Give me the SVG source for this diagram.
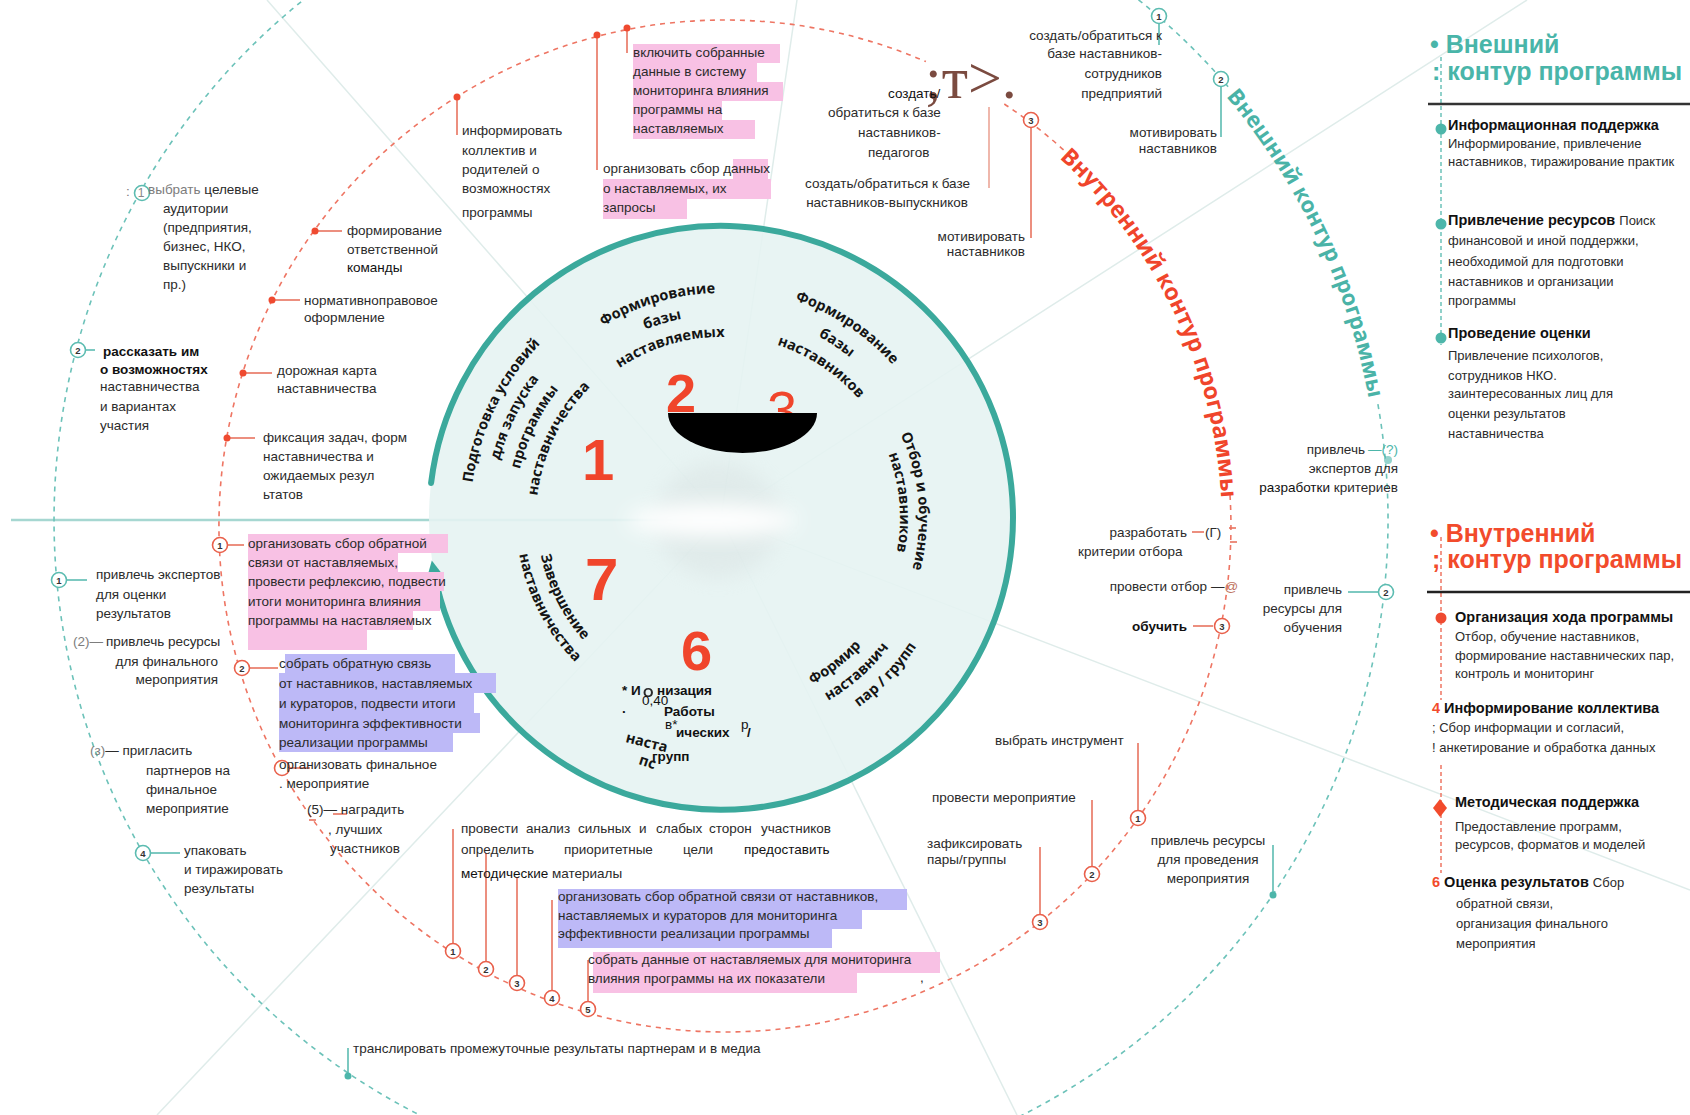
<svg xmlns="http://www.w3.org/2000/svg" width="1690" height="1115" viewBox="0 0 1690 1115">
<defs>
<style>
.t{font-family:"Liberation Sans",Arial,sans-serif;font-size:13.5px;fill:#2b2b2b}
.e{text-anchor:end}
.m{text-anchor:middle}
.b{font-weight:700}
.k{fill:#111}
.g{fill:#7d7d7d}
.w{font-family:"Open Sans","Liberation Sans",sans-serif;font-weight:700;font-size:14.5px;fill:#141414}
.n{font-family:"Liberation Sans",Arial,sans-serif;font-weight:700;font-size:9.5px;fill:#333;text-anchor:middle}
.rc{fill:#fff;stroke:#e9604b;stroke-width:1.6}
.tc{fill:#fff;stroke:#5cbcb1;stroke-width:1.6}
.rl{stroke:#e8735f;stroke-width:1.6;fill:none}
.tl{stroke:#5cbcb1;stroke-width:1.6;fill:none}
.rd{fill:#ef4a30}
.td{fill:#4db6aa}
.pk{fill:#f8c1e4}
.pu{fill:#bdb9f7}
.big{font-family:"Liberation Sans",Arial,sans-serif;font-weight:700;fill:#f0452b}
.lg{font-family:"Liberation Sans",Arial,sans-serif;font-size:13px;fill:#2b2b2b}
.lh{font-family:"Liberation Sans",Arial,sans-serif;font-size:14.5px;font-weight:700;fill:#111}
.spoke{stroke:#dfecea;stroke-width:1.5}
.ring{font-family:"Open Sans","Liberation Sans",sans-serif;font-weight:700}
</style>
<marker id="arr" viewBox="0 0 10 10" refX="1" refY="5" markerWidth="15" markerHeight="15" markerUnits="userSpaceOnUse" orient="auto">
<path d="M0,0 L10,5 L0,10 z" fill="#3ba99c"/>
</marker>
<filter id="bl" x="-50%" y="-50%" width="200%" height="200%"><feGaussianBlur stdDeviation="10"/></filter>
<filter id="bl2" x="-50%" y="-50%" width="200%" height="200%"><feGaussianBlur stdDeviation="0.7"/></filter>
<path id="pA1" d="M477.5,578.7 A251,251 0 0 1 618.9,288.7"/>
<path id="pA2" d="M498.8,573.4 A229,229 0 0 1 627.9,308.8"/>
<path id="pA3" d="M520.1,568.1 A207,207 0 0 1 636.8,328.9"/>
<path id="pA4" d="M541.5,562.8 A185,185 0 0 1 645.8,349"/>
<path id="pB1" d="M533.4,393.8 A225,225 0 0 1 810.7,311.7"/>
<path id="pB2" d="M551.7,406 A203,203 0 0 1 801.9,331.8"/>
<path id="pB3" d="M570.1,418.1 A181,181 0 0 1 793.2,352"/>
<path id="pC1" d="M715,288.1 A230,230 0 0 1 935,433.7"/>
<path id="pC2" d="M715.6,312.1 A206,206 0 0 1 912.7,442.5"/>
<path id="pC3" d="M716.2,336.1 A182,182 0 0 1 890.3,451.3"/>
<path id="pD1" d="M861,378 A198,198 0 0 1 883.2,631.6"/>
<path id="pD2" d="M847.6,391.4 A179,179 0 0 1 867.6,620.7"/>
<path id="pE1" d="M715,707.9 A190,190 0 0 0 907,556.9"/>
<path id="pE2" d="M726.2,729.9 A212,212 0 0 0 930.6,549.7"/>
<path id="pE3" d="M747.1,750.6 A234,234 0 0 0 954.5,532.7"/>
<path id="pF1" d="M542,475.4 A184,184 0 0 0 647.9,686.9"/>
<path id="pF2" d="M520.9,473.6 A205,205 0 0 0 642.5,707.4"/>
<path id="pRed" d="M1006.5,116.4 A497,497 0 0 1 1220.5,565"/>
<path id="pTeal" d="M1096.2,-21.8 A659,659 0 0 1 1377.8,574"/>
</defs>

<rect x="0" y="0" width="1690" height="1115" fill="#fff"/>

<g id="spokes">
<line class="spoke" x1="721" y1="518" x2="797" y2="0"/>
<line class="spoke" x1="721" y1="518" x2="267" y2="0"/>
<line class="spoke" x1="721" y1="518" x2="1527" y2="0"/>
<line class="spoke" x1="721" y1="518" x2="1690" y2="890"/>
<line class="spoke" x1="721" y1="518" x2="1017" y2="1115"/>
<line class="spoke" x1="721" y1="518" x2="157" y2="1115"/>
<line x1="11" y1="520" x2="721" y2="520" stroke="#a6d7d1" stroke-width="2.5"/>
</g>

<g id="wheel">
<circle cx="721" cy="518" r="292" fill="#e6f3f2" fill-opacity="0.9"/>
<ellipse cx="718" cy="520" rx="62" ry="58" fill="#d5dede" opacity="0.4" filter="url(#bl)"/>
<ellipse cx="712" cy="520" rx="85" ry="16" fill="#ffffff" filter="url(#bl)"/>
<path d="M431.1,482.9 A292,292 0 0 1 1013,518 A292,292 0 0 1 434.4,573.7" fill="none" stroke="#3ba99c" stroke-width="6" stroke-linecap="round" marker-end="url(#arr)"/>
</g>

<g id="contours">
<path d="M1377.9,404.2 A667,667 0 1 1 1228.2,86.8" fill="none" stroke="#6cc2b9" stroke-width="1.6" stroke-dasharray="5 5"/>
<path d="M1004.3,104 A506,506 0 0 1 1066.9,152.9" fill="none" stroke="#ee7563" stroke-width="1.6" stroke-dasharray="5 5"/>
<path d="M1230,495.1 A506,506 0 1 1 925.9,61.6" fill="none" stroke="#ee7563" stroke-width="1.6" stroke-dasharray="5 5"/>
<text class="ring" font-size="23" fill="#f0452b"><textPath href="#pRed" startOffset="50%" text-anchor="middle">Внутренний контур программы</textPath></text>
<text class="ring" font-size="22" fill="#4ab3a7"><textPath href="#pTeal" startOffset="50%" text-anchor="middle">Внешний контур программы</textPath></text>
</g>

<g id="connectors">
<line class="rl" x1="315" y1="231" x2="342" y2="231"/>
<line class="rl" x1="272" y1="300" x2="300" y2="300"/>
<line class="rl" x1="243" y1="373" x2="272" y2="373"/>
<line class="rl" x1="227" y1="438" x2="255" y2="438"/>
<line class="rl" x1="457" y1="97" x2="457" y2="135"/>
<line class="rl" x1="597" y1="35" x2="597" y2="170"/>
<line class="rl" x1="627" y1="28" x2="627" y2="53"/>
<line x1="989" y1="107" x2="989" y2="188" stroke="#eba597" stroke-width="1.6"/>
<line class="rl" x1="1031" y1="128" x2="1031" y2="238" stroke="#eba597"/>
<line class="rl" x1="1193" y1="626" x2="1213" y2="626"/>
<line class="rl" x1="1192" y1="532" x2="1204" y2="532"/>
<line class="rl" x1="1229" y1="528" x2="1236" y2="528"/>
<line class="rl" x1="1230" y1="542" x2="1237" y2="542"/>
<line class="rl" x1="1138" y1="743" x2="1138" y2="810"/>
<line class="rl" x1="1092" y1="800" x2="1092" y2="866"/>
<line class="rl" x1="1040" y1="847" x2="1040" y2="914"/>
<line class="rl" x1="453" y1="829" x2="453" y2="943"/>
<line class="rl" x1="486" y1="853" x2="486" y2="961"/>
<line class="rl" x1="517" y1="877" x2="517" y2="975"/>
<line class="rl" x1="552" y1="900" x2="552" y2="990"/>
<line class="rl" x1="588" y1="960" x2="588" y2="1001"/>
<line class="rl" x1="228" y1="545" x2="244" y2="545"/>
<line class="rl" x1="250" y1="668" x2="278" y2="668"/>
<line class="rl" x1="283" y1="768" x2="310" y2="768"/>
<line class="rl" x1="333" y1="814" x2="347" y2="814"/>
<line class="rl" x1="309" y1="820" x2="316" y2="820"/>
<line class="tl" x1="1159" y1="24" x2="1159" y2="45"/>
<line class="tl" x1="1221" y1="87" x2="1221" y2="137"/>
<line class="tl" x1="67" y1="580" x2="87" y2="580"/>
<line class="tl" x1="86" y1="350" x2="95" y2="350"/>
<line class="tl" x1="151" y1="853" x2="180" y2="853"/>
<line class="tl" x1="1348" y1="592" x2="1378" y2="592"/>
<line class="tl" x1="1273" y1="845" x2="1273" y2="895"/>
<line class="tl" x1="348" y1="1048" x2="348" y2="1076"/>
</g>

<g id="highlights">
<rect class="pk" x="633" y="44" width="147" height="19"/>
<rect class="pk" x="633" y="63" width="124" height="19"/>
<rect class="pk" x="633" y="82" width="150" height="19"/>
<rect class="pk" x="633" y="101" width="89" height="19"/>
<rect class="pk" x="633" y="120" width="122" height="19"/>
<rect class="pk" x="733" y="159" width="35" height="20"/>
<rect class="pk" x="603" y="179" width="168" height="20"/>
<rect class="pk" x="603" y="199" width="84" height="20"/>
<rect class="pk" x="248" y="534" width="200" height="19"/>
<rect class="pk" x="248" y="553" width="150" height="19"/>
<rect class="pk" x="248" y="572" width="196" height="19"/>
<rect class="pk" x="248" y="591" width="192" height="20"/>
<rect class="pk" x="248" y="611" width="165" height="19"/>
<rect class="pk" x="248" y="630" width="119" height="20"/>
<rect class="pu" x="285" y="654" width="170" height="19"/>
<rect class="pu" x="279" y="673" width="217" height="20"/>
<rect class="pu" x="279" y="693" width="195" height="20"/>
<rect class="pu" x="279" y="713" width="201" height="20"/>
<rect class="pu" x="279" y="733" width="174" height="19"/>
<rect class="pu" x="558" y="889" width="349" height="21"/>
<rect class="pu" x="558" y="910" width="304" height="19"/>
<rect class="pu" x="558" y="929" width="274" height="19"/>
<rect class="pk" x="593" y="952" width="347" height="21"/>
<rect class="pk" x="593" y="973" width="264" height="20"/>
</g>

<g id="n-target">
<text class="t g" x="126" y="196">:</text>
<circle class="tc" cx="142" cy="193" r="7.5"/>
<text class="t" x="148" y="194"><tspan class="g">выбрать</tspan> целевые</text>
<text class="n" x="141" y="197" style="fill:#888;font-weight:400;font-size:12px">1</text>
<text class="t" x="163" y="213">аудитории</text>
<text class="t" x="163" y="232">(предприятия,</text>
<text class="t" x="163" y="251">бизнес, НКО,</text>
<text class="t" x="163" y="270">выпускники и</text>
<text class="t" x="163" y="289">пр.)</text>
</g>
<g id="n-team">
<circle class="rd" cx="315" cy="231" r="3.5"/>
<text class="t" x="347" y="235">формирование</text>
<text class="t" x="347" y="254">ответственной</text>
<text class="t k" x="347" y="272">команды</text>
</g>
<g id="n-norm">
<circle class="rd" cx="272" cy="300" r="3.5"/>
<text class="t" x="304" y="305">нормативноправовое</text>
<text class="t" x="304" y="322">оформление</text>
</g>
<g id="n-road">
<circle class="rd" cx="243" cy="373" r="3.5"/>
<text class="t" x="277" y="375">дорожная карта</text>
<text class="t" x="277" y="393">наставничества</text>
</g>
<g id="n-tell">
<circle class="tc" cx="78" cy="350" r="7.5"/>
<text class="n" x="78" y="353.5">2</text>
<text class="t b k" x="103" y="356">рассказать им</text>
<text class="t b k" x="100" y="374">о возможностях</text>
<text class="t" x="100" y="391">наставничества</text>
<text class="t" x="100" y="411">и вариантах</text>
<text class="t" x="100" y="430">участия</text>
</g>
<g id="n-fix">
<circle class="rd" cx="227" cy="438" r="3.5"/>
<text class="t" x="263" y="442">фиксация задач, форм</text>
<text class="t" x="263" y="461">наставничества и</text>
<text class="t" x="263" y="480">ожидаемых резул</text>
<text class="t" x="263" y="499">ьтатов</text>
</g>
<g id="n-feedback1">
<circle class="rc" cx="220" cy="545" r="7.5"/>
<text class="n" x="220" y="548.5">1</text>
<text class="t" x="248" y="548">организовать сбор обратной</text>
<text class="t" x="248" y="567">связи от наставляемых,</text>
<text class="t" x="248" y="586">провести рефлексию, подвести</text>
<text class="t" x="248" y="606">итоги мониторинга влияния</text>
<text class="t" x="248" y="625">программы на наставляемых</text>
</g>
<g id="n-experts">
<circle class="tc" cx="59" cy="580" r="7.5"/>
<text class="n" x="59" y="583.5">1</text>
<text class="t" x="96" y="579">привлечь экспертов</text>
<text class="t" x="96" y="599">для оценки</text>
<text class="t" x="96" y="618">результатов</text>
</g>
<g id="n-resfinal">
<text class="t" x="73" y="646"><tspan class="g">(2)—</tspan><tspan x="106">привлечь ресурсы</tspan></text>
<text class="t e" x="218" y="666">для финального</text>
<text class="t e" x="218" y="684">мероприятия</text>
</g>
<g id="n-feedback2">
<circle class="rc" cx="242" cy="668" r="7.5"/>
<text class="n" x="242" y="671.5">2</text>
<text class="t" x="279" y="668">собрать обратную связь</text>
<text class="t" x="279" y="688">от наставников, наставляемых</text>
<text class="t" x="279" y="708">и кураторов, подвести итоги</text>
<text class="t" x="279" y="728">мониторинга эффективности</text>
<text class="t" x="279" y="747">реализации программы</text>
</g>
<g id="n-invite">
<text class="t" x="90" y="755"><tspan class="g">(з)</tspan>— пригласить</text>
<text class="t" x="146" y="775">партнеров на</text>
<text class="t" x="146" y="794">финальное</text>
<text class="t" x="146" y="813">мероприятие</text>
</g>
<g id="n-final">
<circle class="rc" cx="282" cy="768" r="7.5"/>
<text class="t" x="279" y="769">организовать финальное</text>
<text class="t" x="279" y="788">. мероприятие</text>
</g>
<g id="n-award">
<text class="t" x="307" y="814">(5)— наградить</text>
<text class="t" x="328" y="834">, лучших</text>
<text class="t" x="330" y="853">участников</text>
</g>
<g id="n-pack">
<circle class="tc" cx="143" cy="853" r="7.5"/>
<text class="n" x="143" y="856.5">4</text>
<text class="t" x="184" y="855">упаковать</text>
<text class="t" x="184" y="874">и тиражировать</text>
<text class="t" x="184" y="893">результаты</text>
</g>
<g id="n-broadcast">
<circle class="td" cx="348" cy="1076" r="3.5"/>
<text class="t" x="353" y="1053">транслировать промежуточные результаты партнерам и в медиа</text>
</g>

<g id="n-inform">
<circle class="rd" cx="457" cy="97" r="3.5"/>
<text class="t" x="462" y="135">информировать</text>
<text class="t" x="462" y="155">коллектив и</text>
<text class="t" x="462" y="174">родителей о</text>
<text class="t" x="462" y="193">возможностях</text>
<text class="t" x="462" y="217">программы</text>
</g>
<g id="n-include">
<circle class="rd" cx="627" cy="28" r="3.5"/>
<text class="t" x="633" y="57">включить собранные</text>
<text class="t" x="633" y="76">данные в систему</text>
<text class="t" x="633" y="95">мониторинга влияния</text>
<text class="t" x="633" y="114">программы на</text>
<text class="t" x="633" y="133">наставляемых</text>
</g>
<g id="n-collect">
<circle class="rd" cx="597" cy="35" r="3.5"/>
<text class="t" x="603" y="173">организовать сбор данных</text>
<text class="t" x="603" y="193">о наставляемых, их</text>
<text class="t" x="603" y="212">запросы</text>
</g>
<g id="n-glyphs">
<text x="925" y="98" font-family="Liberation Serif,serif" font-size="60" fill="#7b4b40">;т&gt;.</text>
</g>
<g id="n-teachers">
<text class="t k" x="888" y="98">создать/</text>
<text class="t" x="828" y="117">обратиться к базе</text>
<text class="t" x="858" y="137">наставников-</text>
<text class="t" x="868" y="157">педагогов</text>
</g>
<g id="n-graduates">
<text class="t e" x="970" y="188">создать/обратиться к базе</text>
<text class="t e" x="968" y="207">наставников-выпускников</text>
</g>
<g id="n-motivate-in">
<circle class="rc" cx="1031" cy="120" r="7.5"/>
<text class="n" x="1031" y="123.5">3</text>
<text class="t e" x="1025" y="241">мотивировать</text>
<text class="t e" x="1025" y="256">наставников</text>
</g>
<g id="n-employees">
<circle class="tc" cx="1159" cy="16" r="7.5"/>
<text class="n" x="1159" y="19.5">1</text>
<text class="t e" x="1162" y="40">создать/обратиться к</text>
<text class="t e" x="1162" y="58">базе наставников-</text>
<text class="t e" x="1162" y="78">сотрудников</text>
<text class="t e" x="1162" y="98">предприятий</text>
</g>
<g id="n-motivate-out">
<circle class="tc" cx="1221" cy="79" r="7.5"/>
<text class="n" x="1221" y="82.5">2</text>
<text class="t e" x="1217" y="137">мотивировать</text>
<text class="t e" x="1217" y="153">наставников</text>
</g>

<g id="n-criteria-experts">
<circle class="td" cx="1388" cy="460" r="4" opacity="0.6"/>
<text class="t e" x="1365" y="454">привлечь</text>
<text class="t" x="1368" y="454" style="fill:#4db6aa">—(?)</text>
<text class="t e" x="1398" y="473">экспертов для</text>
<text class="t e" x="1398" y="492"><tspan class="k">разработки</tspan> критериев</text>
</g>
<g id="n-res-training">
<circle class="tc" cx="1386" cy="592" r="7.5"/>
<text class="n" x="1386" y="595.5">2</text>
<text class="t e" x="1342" y="594">привлечь</text>
<text class="t e" x="1342" y="613">ресурсы для</text>
<text class="t e" x="1342" y="632">обучения</text>
</g>
<g id="n-criteria">
<text class="t e" x="1187" y="537">разработать</text>
<text class="t" x="1205" y="537">(Г)</text>
<text class="t" x="1078" y="556">критерии отбора</text>
</g>
<g id="n-select">
<text class="t e" x="1207" y="591">провести отбор</text>
<text class="t" x="1211" y="591">—<tspan style="fill:#c0735f">@</tspan></text>
</g>
<g id="n-train">
<circle class="rc" cx="1222" cy="626" r="7.5"/>
<text class="n" x="1222" y="629.5">3</text>
<text class="t b k e" x="1187" y="631">обучить</text>
</g>
<g id="n-tool">
<circle class="rc" cx="1138" cy="818" r="7.5"/>
<text class="n" x="1138" y="821.5">1</text>
<text class="t" x="995" y="745">выбрать инструмент</text>
</g>
<g id="n-event">
<circle class="rc" cx="1092" cy="874" r="7.5"/>
<text class="n" x="1092" y="877.5">2</text>
<text class="t" x="932" y="802">провести мероприятие</text>
</g>
<g id="n-pairs">
<circle class="rc" cx="1040" cy="922" r="7.5"/>
<text class="n" x="1040" y="925.5">3</text>
<text class="t" x="927" y="848">зафиксировать</text>
<text class="t" x="927" y="864">пары/группы</text>
<text class="t" x="920" y="982">,</text>
</g>
<g id="n-res-event">
<circle class="td" cx="1273" cy="895" r="3.5"/>
<text class="t m" x="1208" y="845">привлечь ресурсы</text>
<text class="t m" x="1208" y="864">для проведения</text>
<text class="t m" x="1208" y="883">мероприятия</text>
</g>

<g id="n-bottom">
<circle class="rc" cx="453" cy="951" r="7.5"/><text class="n" x="453" y="954.5">1</text>
<circle class="rc" cx="486" cy="969" r="7.5"/><text class="n" x="486" y="972.5">2</text>
<circle class="rc" cx="517" cy="983" r="7.5"/><text class="n" x="517" y="986.5">3</text>
<circle class="rc" cx="552" cy="998" r="7.5"/><text class="n" x="552" y="1001.5">4</text>
<circle class="rc" cx="588" cy="1009" r="7.5"/><text class="n" x="588" y="1012.5">5</text>
<text class="t" y="833"><tspan x="461">провести</tspan><tspan x="526">анализ</tspan><tspan x="578">сильных</tspan><tspan x="639">и</tspan><tspan x="656">слабых</tspan><tspan x="709">сторон</tspan><tspan x="761">участников</tspan></text>
<text class="t" y="854"><tspan x="461">определить</tspan><tspan x="564">приоритетные</tspan><tspan x="683">цели</tspan><tspan x="744" class="k">предоставить</tspan></text>
<text class="t" x="461" y="878"><tspan class="k">методические</tspan> материалы</text>
<text class="t" x="558" y="901">организовать сбор обратной связи от наставников,</text>
<text class="t" x="558" y="920">наставляемых и кураторов для мониторинга</text>
<text class="t" x="558" y="938">эффективности реализации программы</text>
<text class="t" x="588" y="964">собрать данные от наставляемых для мониторинга</text>
<text class="t" x="588" y="983">влияния программы на их показатели</text>
</g>

<g id="stage-1">
<text class="w" font-size="14"><textPath href="#pA1" startOffset="50%" text-anchor="middle">Подготовка условий</textPath></text>
<text class="w" font-size="14"><textPath href="#pA2" startOffset="50%" text-anchor="middle">для запуска</textPath></text>
<text class="w" font-size="14"><textPath href="#pA3" startOffset="50%" text-anchor="middle">программы</textPath></text>
<text class="w" font-size="14"><textPath href="#pA4" startOffset="50%" text-anchor="middle">наставничества</textPath></text>
<text class="big" x="582" y="480" font-size="58">1</text>
</g>
<g id="stage-2">
<text class="w"><textPath href="#pB1" startOffset="50%" text-anchor="middle">Формирование</textPath></text>
<text class="w"><textPath href="#pB2" startOffset="50%" text-anchor="middle">базы</textPath></text>
<text class="w"><textPath href="#pB3" startOffset="50%" text-anchor="middle">наставляемых</textPath></text>
<text class="big" x="666" y="412" font-size="54">2</text>
</g>
<g id="stage-3">
<text class="w"><textPath href="#pC1" startOffset="50%" text-anchor="middle">Формирование</textPath></text>
<text class="w"><textPath href="#pC2" startOffset="50%" text-anchor="middle">базы</textPath></text>
<text class="w"><textPath href="#pC3" startOffset="50%" text-anchor="middle">наставников</textPath></text>
<text x="767" y="429" font-family="Liberation Sans,Arial,sans-serif" font-size="54" fill="#f0452b">3</text>
<path d="M668,413 A74.5,40 0 0 0 817,413 Z" fill="#000"/>
</g>
<g id="stage-4">
<text class="w" font-size="14"><textPath href="#pD1" startOffset="50%" text-anchor="middle">Отбор и обучение</textPath></text>
<text class="w" font-size="14"><textPath href="#pD2" startOffset="50%" text-anchor="middle">наставников</textPath></text>
</g>
<g id="stage-5">
<text class="w" font-size="14"><textPath href="#pE1" startOffset="50%" text-anchor="middle">Формир</textPath></text>
<text class="w" font-size="14"><textPath href="#pE2" startOffset="50%" text-anchor="middle">наставнич</textPath></text>
<text class="w" font-size="14"><textPath href="#pE3" startOffset="50%" text-anchor="middle">пар / групп</textPath></text>
</g>
<g id="stage-6">
<text class="big" x="681" y="670" font-size="56">6</text>
<text class="t b k" x="622" y="695" font-size="14">* И</text>
<text class="t b" x="643" y="697" font-size="17" fill="#222" filter="url(#bl2)">О</text>
<text class="t b k" x="657" y="695" font-size="14">низация</text>
<text class="t b k" x="622" y="713" font-size="14">.</text>
<text class="t k" x="642" y="705" font-size="8">0,40</text>
<text class="t b k" x="664" y="716" font-size="14">Работы</text>
<text class="t k" x="665" y="729" font-size="8">в*</text>
<text class="t b k" x="676" y="737" font-size="14">ических</text>
<text class="t k" x="741" y="729" font-size="8">р</text>
<text class="t b k" x="747" y="737" font-size="14">/</text>
<text class="w" x="625" y="742" font-size="14" transform="rotate(14 625 742)">наста</text>
<text class="w" x="638" y="764" font-size="13" transform="rotate(18 638 764)">пс</text>
<text class="t b k" x="652" y="761" font-size="14">групп</text>
</g>
<g id="stage-7">
<text class="w"><textPath href="#pF1" startOffset="50%" text-anchor="middle">Завершение</textPath></text>
<text class="w" font-size="14"><textPath href="#pF2" startOffset="50%" text-anchor="middle">наставничества</textPath></text>
<text class="big" x="585" y="600" font-size="60">7</text>
</g>

<g id="legend-outer">
<line x1="1441" y1="57" x2="1441" y2="345" stroke="#6cc2b9" stroke-width="1.5" stroke-dasharray="4 3"/>
<text x="1430" y="53" font-family="Liberation Sans,Arial,sans-serif" font-size="25" font-weight="700" fill="#49b5a9">• Внешний</text>
<text x="1432" y="80" font-family="Liberation Sans,Arial,sans-serif" font-size="25" font-weight="700" fill="#49b5a9">: контур программы</text>
<line x1="1428" y1="104" x2="1690" y2="104" stroke="#333" stroke-width="2.5"/>
<circle class="td" cx="1441" cy="129" r="5.5"/>
<text class="lh" x="1448" y="130">Информационная поддержка</text>
<text class="lg" x="1448" y="148">Информирование, привлечение</text>
<text class="lg" x="1448" y="166">наставников, тиражирование практик</text>
<circle class="td" cx="1441" cy="224" r="5.5"/>
<text class="lh" x="1448" y="225">Привлечение ресурсов <tspan style="font-weight:400;font-size:13px;fill:#2b2b2b">Поиск</tspan></text>
<text class="lg" x="1448" y="245">финансовой и иной поддержки,</text>
<text class="lg" x="1448" y="266">необходимой для подготовки</text>
<text class="lg" x="1448" y="286">наставников и организации</text>
<text class="lg" x="1448" y="305">программы</text>
<circle class="td" cx="1441" cy="338" r="5.5"/>
<text class="lh" x="1448" y="338">Проведение оценки</text>
<text class="lg" x="1448" y="360">Привлечение психологов,</text>
<text class="lg" x="1448" y="380">сотрудников НКО.</text>
<text class="lg" x="1448" y="398">заинтересованных лиц для</text>
<text class="lg" x="1448" y="418">оценки результатов</text>
<text class="lg" x="1448" y="438">наставничества</text>
</g>

<g id="legend-inner">
<line x1="1441" y1="537" x2="1441" y2="700" stroke="#ee7563" stroke-width="1.5" stroke-dasharray="4 3"/>
<line x1="1441" y1="765" x2="1441" y2="873" stroke="#ee7563" stroke-width="1.5" stroke-dasharray="4 3"/>
<text x="1430" y="542" font-family="Liberation Sans,Arial,sans-serif" font-size="25" font-weight="700" fill="#f24b2c">• Внутренний</text>
<text x="1432" y="568" font-family="Liberation Sans,Arial,sans-serif" font-size="25" font-weight="700" fill="#f24b2c">; контур программы</text>
<line x1="1427" y1="592" x2="1690" y2="592" stroke="#222" stroke-width="2.5"/>
<circle class="rd" cx="1441" cy="618" r="5.5"/>
<text class="lh" x="1455" y="622">Организация хода программы</text>
<text class="lg" x="1455" y="641">Отбор, обучение наставников,</text>
<text class="lg" x="1455" y="660">формирование наставнических пар,</text>
<text class="lg" x="1455" y="678">контроль и мониторинг</text>
<text class="lh" x="1432" y="713"><tspan style="fill:#f24b2c">4</tspan> Информирование коллектива</text>
<text class="lg" x="1432" y="732">; Сбор информации и согласий,</text>
<text class="lg" x="1432" y="752">! анкетирование и обработка данных</text>
<polygon points="1440,799 1447,808 1440,817 1433,808" fill="#f24b2c"/>
<text class="lh" x="1455" y="807">Методическая поддержка</text>
<text class="lg" x="1455" y="831">Предоставление программ,</text>
<text class="lg" x="1455" y="849">ресурсов, форматов и моделей</text>
<text class="lh" x="1432" y="887"><tspan style="fill:#f24b2c">6</tspan> Оценка результатов <tspan style="font-weight:400;font-size:13px;fill:#2b2b2b">Сбор</tspan></text>
<text class="lg" x="1456" y="908">обратной связи,</text>
<text class="lg" x="1456" y="928">организация финального</text>
<text class="lg" x="1456" y="948">мероприятия</text>
</g>
</svg>
